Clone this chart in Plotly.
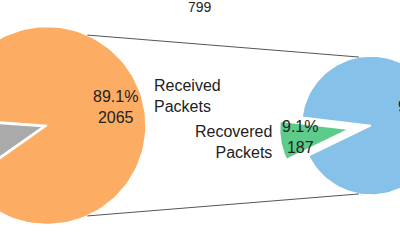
import numpy as np
import plotly.graph_objects as go

# ---- data ----
left_labels = ["Received<br>Packets", "Lost<br>Packets"]
left_values = [2065, 253]
left_colors = ["#fdad63", "#aaaaaa"]
left_explode = [0.0, 0.04]

right_labels = ["Recovered<br>Packets", "Unrecovered<br>Packets"]
right_values = [187, 1868]
right_colors = ["#5dcc8a", "#85c1e9"]
right_explode = [0.32, 0.0]

title_text = "799"

# ---- layout geometry (in left-pie radius units) ----
W, H = 400, 250
S = 99.0                      # px per unit
L_CX, L_CY, L_R = 0.0, 0.0, 1.0
R_CX, R_CY, R_R = (371 - 47) / S, 0.0, 69.5 / S
L_START = 215.1
R_START = 173.1
PCT_DIST = 0.72
LBL_DIST = 1.1
TXT = "#222222"
FONT = "Liberation Sans, Arial, sans-serif"
XR = [-47 / S, (W - 47) / S]
YR = [-(H - 125.5) / S, 125.5 / S]


def px(x):
    return (x - XR[0]) / (XR[1] - XR[0])


def py(y):
    return (y - YR[0]) / (YR[1] - YR[0])


fig = go.Figure()
annotations = []


def draw_pie(cx, cy, r, values, labels, colors, explode, start):
    total = float(sum(values))
    a0 = start
    for v, lab, col, ex in zip(values, labels, colors, explode):
        span = v / total * 360.0
        a1 = a0 + span
        mid = np.radians((a0 + a1) / 2)
        ox, oy = cx + ex * r * np.cos(mid), cy + ex * r * np.sin(mid)
        th = np.radians(np.linspace(a0, a1, 120))
        xs = np.concatenate([[ox], ox + r * np.cos(th), [ox]])
        ys = np.concatenate([[oy], oy + r * np.sin(th), [oy]])
        fig.add_trace(go.Scatter(x=xs, y=ys, mode="lines", fill="toself",
                                 fillcolor=col, line=dict(color="white", width=1.5),
                                 hoverinfo="skip", showlegend=False))
        pct = v / total * 100
        pxp = px(ox + PCT_DIST * r * np.cos(mid))
        # only texts that fall (at least partly) inside the visible window
        if -25 / W < pxp < 1 + 25 / W:
            annotations.append(dict(x=pxp, y=py(oy + PCT_DIST * r * np.sin(mid)),
                                    xref="paper", yref="paper",
                                    text=f"{pct:.1f}%<br>{v}", showarrow=False,
                                    xanchor="center", yanchor="middle",
                                    font=dict(size=16, color=TXT, family=FONT)))
        lx = px(ox + LBL_DIST * r * np.cos(mid))
        ly = py(oy + LBL_DIST * r * np.sin(mid))
        left_side = np.cos(mid) < 0
        if (left_side and lx > 0) or ((not left_side) and lx < 1):
            annotations.append(dict(x=lx, y=ly, xref="paper", yref="paper",
                                    text=lab, showarrow=False,
                                    xanchor="right" if left_side else "left",
                                    align="right" if left_side else "left",
                                    yanchor="middle",
                                    font=dict(size=16, color=TXT, family=FONT)))
        a0 = a1


draw_pie(L_CX, L_CY, L_R, left_values, left_labels, left_colors, left_explode, L_START)
draw_pie(R_CX, R_CY, R_R, right_values, right_labels, right_colors, right_explode, R_START)

# connection lines
for la, ra in [(66.0, 100.0), (-66.0, -100.0)]:
    fig.add_trace(go.Scatter(
        x=[L_CX + L_R * np.cos(np.radians(la)), R_CX + R_R * np.cos(np.radians(ra))],
        y=[L_CY + L_R * np.sin(np.radians(la)), R_CY + R_R * np.sin(np.radians(ra))],
        mode="lines", line=dict(color="#555555", width=1),
        hoverinfo="skip", showlegend=False))

annotations.append(dict(x=0.5, y=1.0, xref="paper", yref="paper", text=title_text,
                        showarrow=False, xanchor="center", yanchor="top", yshift=3,
                        font=dict(size=14, color=TXT, family=FONT)))

fig.update_layout(
    width=W, height=H, margin=dict(l=0, r=0, t=0, b=0),
    paper_bgcolor="white", plot_bgcolor="white",
    xaxis=dict(range=XR, visible=False, fixedrange=True),
    yaxis=dict(range=YR, visible=False, fixedrange=True),
    annotations=annotations,
)

fig.write_html("out.html")
